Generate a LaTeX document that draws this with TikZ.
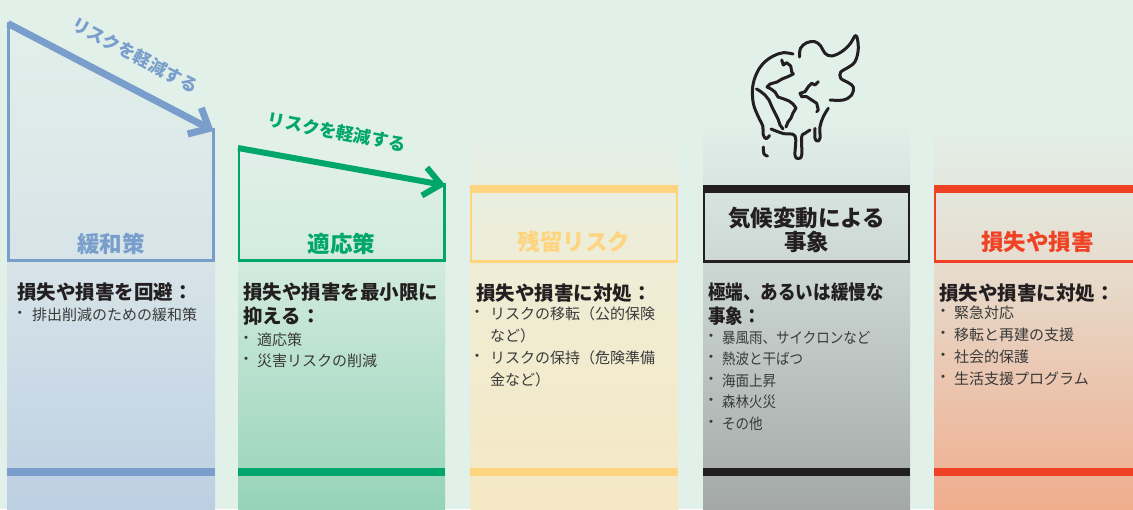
\documentclass[tikz,border=0pt]{standalone}
\usepackage{fontspec}
\setmainfont{Noto Sans CJK JP}
\newfontfamily\condfont[FakeStretch=0.9]{Noto Sans CJK JP}
\usetikzlibrary{calc}

\definecolor{bgc}{HTML}{E2F0EA}
\definecolor{mitig}{HTML}{7A9ECB}
\definecolor{adapt}{HTML}{00A66C}
\definecolor{resid}{HTML}{FED47F}
\definecolor{ink}{HTML}{231F20}
\definecolor{loss}{HTML}{EF4123}
\definecolor{itemc}{HTML}{3A3A3A}
\definecolor{cAmid}{HTML}{D7E4E8}\definecolor{cAbot}{HTML}{BDCFE3}
\definecolor{cBmid}{HTML}{D2EBDF}\definecolor{cBbot}{HTML}{96D3B8}
\definecolor{cCmid}{HTML}{EFEDD6}\definecolor{cCbot}{HTML}{F5E8C4}
\definecolor{cDmid}{HTML}{CDD8D4}\definecolor{cDbot}{HTML}{A4A9A8}
\definecolor{cEmid}{HTML}{E6DDCF}\definecolor{cEbot}{HTML}{F0AD8E}

\tikzset{
  title/.style={font=\fontsize{22.5}{23.5}\selectfont\bfseries, inner sep=0, align=center},
  arrowlabel/.style={font=\fontsize{17.5}{20}\selectfont\bfseries, inner sep=0},
  head/.style={font=\fontsize{19.5}{23}\selectfont\bfseries, text=ink, anchor=west,
    inner sep=0, text height=17.2pt, text depth=2.3pt},
  item/.style={font=\fontsize{15}{18}\selectfont, text=itemc, anchor=west,
    inner sep=0, text height=13.2pt, text depth=1.8pt},
  dot/.style={font=\fontsize{15}{18}\selectfont, text=itemc, anchor=center, inner sep=0},
  riskarrow/.style={line width=7pt, line cap=butt},
  chevron/.style={line width=7pt, line cap=butt, line join=miter},
  frameline/.style={line width=2.5pt, line join=miter},
  boxline/.style={line width=2.4pt},
  icon/.style={ink, line width=3pt, line cap=round, line join=round}
}
\newcommand\mkitem[5]{%
  \node[dot] (#1d) at (#2,#4) {・};
  \node[item] (#1) at (#3,#4) {#5};}

\begin{document}
\begin{tikzpicture}[x=1pt,y=-1pt]
\useasboundingbox (0,0) rectangle (1133,509);
\clip (0,0) rectangle (1133,509);
\fill[bgc] (0,0) rectangle (1133,509);

% ---- column backgrounds ----
\shade[top color=bgc, bottom color=cAmid] (7,22) -- (215,130) -- (215,262) -- (7,262) -- cycle;
\shade[top color=cAmid, bottom color=cAbot] (7,262) rectangle (215,509);
\shade[top color=bgc, bottom color=cBmid] (238,146) -- (445,184) -- (445,262) -- (238,262) -- cycle;
\shade[top color=cBmid, bottom color=cBbot] (238,262) rectangle (445,509);
\shade[top color=bgc, bottom color=cCmid] (470,120) rectangle (678,262);
\shade[top color=cCmid, bottom color=cCbot] (470,262) rectangle (678,509);
\shade[top color=bgc, bottom color=cDmid] (703,117) rectangle (910,262);
\shade[top color=cDmid, bottom color=cDbot] (703,262) rectangle (910,509);
\shade[top color=bgc, bottom color=cEmid] (934,120) rectangle (1142,262);
\shade[top color=cEmid, bottom color=cEbot] (934,262) rectangle (1142,509);

% ---- bottom bars ----
\fill[mitig] (7,468) rectangle (215,476);
\fill[adapt] (238,468) rectangle (445,476);
\fill[resid] (470,468) rectangle (678,476);
\fill[ink]   (703,468) rectangle (910,476);
\fill[loss]  (934,468) rectangle (1142,476);

% ---- mitigation frame and arrow ----
\coordinate (aAs) at (8,23.5);
\coordinate (aAt) at (209,128.5);
\draw[frameline, mitig] (8.5,22) |- (213.5,260.5) -- (213.5,128);
\draw[riskarrow, mitig] (aAs) -- ($(aAt)!3pt!(aAs)$);
\draw[chevron, mitig] ($(aAt)!22pt!42:(aAs)$) -- (aAt) -- ($(aAt)!22pt!-42:(aAs)$);
\node[arrowlabel, text=mitig, rotate=-28] (rA) at (135,55) {リスクを軽減する};
\node[title, text=mitig] (tA) at (111,244) {緩和策};

% ---- adaptation frame and arrow ----
\coordinate (aBs) at (238,148);
\coordinate (aBt) at (441,184.5);
\draw[frameline, adapt] (239,146) |- (444.5,260.5) -- (444.5,183);
\draw[riskarrow, line width=6pt, adapt] (aBs) -- ($(aBt)!3pt!(aBs)$);
\draw[chevron, line width=6pt, adapt] ($(aBt)!22pt!40:(aBs)$) -- (aBt) -- ($(aBt)!22pt!-40:(aBs)$);
\node[arrowlabel, text=adapt, rotate=-10.5] (rB) at (337,132) {リスクを軽減する};
\node[title, text=adapt] (tB) at (341.5,244) {適応策};

% ---- boxed headers ----
\fill[resid] (470,185) rectangle (678,193);
\draw[boxline, resid] (471.2,192) rectangle (676.8,261.3);
\node[title, text=resid] (tC) at (574,242) {残留リスク};

\fill[ink] (703,185) rectangle (910,193);
\draw[boxline, ink] (704.2,192) rectangle (908.8,261.3);
\node[title, text=ink] (tD) at (806.5,230) {気候変動による\\事象};

\fill[loss] (934,185) rectangle (1142,193);
\draw[boxline, loss] (935.2,192) rectangle (1140.8,261.3);
\node[title, text=loss] (tE) at (1037.5,242) {損失や損害};

% ---- column texts ----
\node[head] (hA) at (17,292.5) {損失や損害を回避：};
\mkitem{iAa}{20}{32}{315}{排出削減のための緩和策}

\node[head] (hBa) at (243,292.5) {損失や損害を最小限に};
\node[head] (hBb) at (243,316) {抑える：};
\mkitem{iBa}{246}{257}{339.5}{適応策}
\mkitem{iBb}{246}{257}{361}{災害リスクの削減}

\node[head] (hC) at (476,293) {損失や損害に対処：};
\mkitem{iCa}{477}{490}{314}{リスクの移転（公的保険}
\node[item] (iCb) at (490,336) {など）};
\mkitem{iCc}{477}{490}{358}{リスクの保持（危険準備}
\node[item] (iCd) at (490,380) {金など）};

\node[head] (hDa) at (708,292) {\condfont 極端、あるいは緩慢な};
\node[head] (hDb) at (708,316) {\condfont 事象：};
\mkitem{iDa}{711}{722}{337.5}{\condfont 暴風雨、サイクロンなど}
\mkitem{iDb}{711}{722}{359}{\condfont 熱波と干ばつ}
\mkitem{iDc}{711}{722}{380.5}{\condfont 海面上昇}
\mkitem{iDd}{711}{722}{402}{\condfont 森林火災}
\mkitem{iDe}{711}{722}{423.5}{\condfont その他}

\node[head] (hE) at (939,293) {損失や損害に対処：};
\mkitem{iEa}{943}{954}{313}{緊急対応}
\mkitem{iEb}{943}{954}{335}{移転と再建の支援}
\mkitem{iEc}{943}{954}{357}{社会的保護}
\mkitem{iEd}{943}{954}{379}{生活支援プログラム}

% ---- melting globe with flame ----
% globe outline and left drip
\draw[icon] plot[smooth, tension=0.6] coordinates {(793,54) (783.3,52.7) (773.3,56) (763.3,63.3) (756.7,73.3) (752.7,86.7) (753.3,103.3) (758.3,116.7) (762.8,126) (763.3,135) (766.3,138.7) (769.5,135.5)};
% small falling drop
\draw[icon] plot[smooth, tension=0.6] coordinates {(763.3,147) (764,154) (767.5,156)};
% lower rim and middle drip
\draw[icon] plot[smooth, tension=0.6] coordinates {(771,129) (783,133.5) (795,136) (795,155) (798.3,158.5) (801.7,155) (801.7,137) (805,133.3) (810,130)};
% right drip and right rim
\draw[icon] plot[smooth, tension=0.6] coordinates {(815,128.3) (815,138.3) (817.5,141) (820,138.3) (820,126.7) (823.3,116.7) (828.3,108.3)};
% flame
\draw[icon] plot[smooth, tension=0.6] coordinates {(799.5,57) (800.5,48.3) (806.7,42.7) (815,41.7) (820.7,46) (825,53.3) (831.7,56) (841.7,51.7) (850,44) (856,35.5) (858.3,48.3) (855,61.7) (846.7,68.3) (840.7,72) (840.7,78.3) (848.3,82.7) (853.3,87) (851.7,95) (843.3,100) (830,100)};
% continents
\draw[icon] (781.7,60) -- (783.3,65) -- (786.7,62.7) -- (790.7,66) -- (791.7,71.7) -- (793.3,74) -- (788.3,76.5) -- (782,79) -- (777,82) -- (770,84) -- (767,87) -- (771,89) -- (775,92) -- (778,97) -- (784,99) -- (789,101) -- (793,104) -- (796,108) -- (793,113) -- (791,118) -- (788,122) -- (786,127);
\draw[icon] (756.5,89) -- (760,91) -- (765,95) -- (769,100) -- (772,107) -- (775,113) -- (778,119) -- (780,125) -- (783,129);
\draw[icon] (818.3,81.7) -- (815,85) -- (811.7,83.3) -- (808.3,86.7) -- (805,91.7) -- (800,93.3) -- (801.7,96.7) -- (806.7,96.7) -- (811.7,100) -- (816.7,103.3) -- (818.3,110) -- (816.7,111.7);
\end{tikzpicture}
\end{document}
